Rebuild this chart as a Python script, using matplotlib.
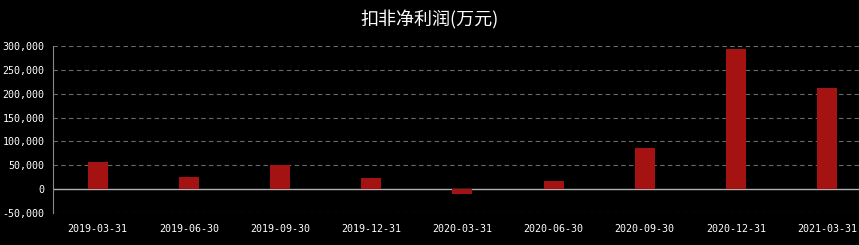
import numpy as np
import matplotlib
matplotlib.use('Agg')
from matplotlib import pyplot as plt
from matplotlib.ticker import FuncFormatter

plt.rcParams['font.family'] = ['Noto Sans CJK SC', 'DejaVu Sans']

dates = ['2019-03-31', '2019-06-30', '2019-09-30', '2019-12-31', '2020-03-31',
         '2020-06-30', '2020-09-30', '2020-12-31', '2021-03-31']
profit = [56000, 25000, 50000, 23000, -11000, 18000, 86500, 293000, 212000]
yticks = [-50000, 0, 50000, 100000, 150000, 200000, 250000, 300000]

fig = plt.figure(figsize=(8.59, 2.45), dpi=100, facecolor='black')
ax = fig.add_axes([53/859, 32/245, 806/859, 167/245], facecolor='black')

x = np.arange(len(dates))
ax.bar(x, profit, width=0.22, color='#a51212', zorder=3)

ax.set_xlim(-0.49, 8.35)
ax.set_ylim(-50000, 300000)
ax.set_yticks(yticks)
ax.yaxis.set_major_formatter(FuncFormatter(lambda v, p: f'{int(v):,}'))
ax.set_xticks(x)
ax.set_xticklabels(dates)

for v in yticks:
    if v == 0:
        ax.axhline(v, color='#b0b0b0', lw=1, zorder=2)
    else:
        ax.axhline(v, color='#6a6a6a', lw=0.8, ls=(0, (4, 3)), zorder=1)

for s in ['top', 'right', 'bottom']:
    ax.spines[s].set_visible(False)
ax.spines['left'].set_color('#8a8a8a')
ax.tick_params(length=0, colors='white', labelsize=7.2)
ax.tick_params(axis='y', pad=6)
ax.tick_params(axis='x', pad=8)
for lab in ax.get_xticklabels() + ax.get_yticklabels():
    lab.set_family('DejaVu Sans Mono')

fig.text(0.5, 1 - 20/245, '扣非净利润(万元)', color='white', fontsize=13,
         ha='center', va='center')

fig.savefig('out.png', dpi=100, facecolor='black')
